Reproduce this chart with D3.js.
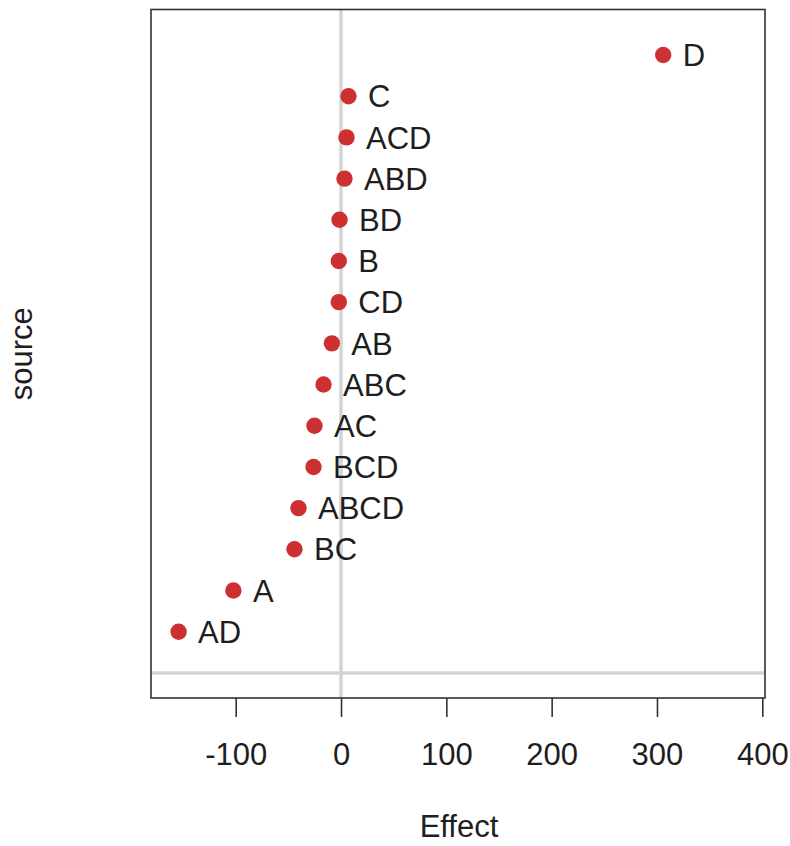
<!DOCTYPE html>
<html>
<head>
<meta charset="utf-8">
<script src="https://cdn.jsdelivr.net/npm/d3@7"></script>
<style>
  html, body { margin: 0; padding: 0; background: #fff; }
  svg { display: block; font-family: "Liberation Sans", Arial, Helvetica, sans-serif; }
</style>
</head>
<body>
<svg id="chart" width="790" height="846"></svg>
<script>
// Effect estimates, ordered from largest (top) to smallest (bottom)
const sources = ["D", "C", "ACD", "ABD", "BD", "B", "CD", "AB", "ABC", "AC", "BCD", "ABCD", "BC", "A", "AD"];
const effects = [305.9, 7.1, 5.2, 3.3, -1.4, -2.1, -2.1, -8.7, -16.6, -25.2, -26.1, -40.4, -44.2, -102.2, -154.2];
const xTicks = [-100, 0, 100, 200, 300, 400];

const svg = d3.select("#chart");
const box = { left: 151, right: 765, top: 9.5, bottom: 698 };
const fontSize = 31;

const x = d3.scaleLinear().domain([-100, 400]).range([235.7, 762.3]);
// rank 15 = top row, rank 1 = bottom row, 0 = reference line
const y = d3.scaleLinear().domain([0, 15]).range([672.9, 55]);

const data = sources.map((s, i) => ({ source: s, effect: effects[i], rank: sources.length - i }));

// reference lines
svg.append("line")
  .attr("x1", x(0)).attr("x2", x(0))
  .attr("y1", box.top).attr("y2", box.bottom)
  .attr("stroke", "#d4d4d4").attr("stroke-width", 3.5);
svg.append("line")
  .attr("x1", box.left).attr("x2", box.right)
  .attr("y1", y(0)).attr("y2", y(0))
  .attr("stroke", "#d4d4d4").attr("stroke-width", 3.5);

// plot frame
svg.append("rect")
  .attr("x", box.left).attr("y", box.top)
  .attr("width", box.right - box.left).attr("height", box.bottom - box.top)
  .attr("fill", "none").attr("stroke", "#333").attr("stroke-width", 1.6);

// x axis
const axis = svg.append("g")
  .attr("transform", `translate(0,${box.bottom})`)
  .call(d3.axisBottom(x).tickValues(xTicks).tickSize(19).tickFormat(d => String(d)));
axis.select(".domain").remove();
axis.selectAll(".tick line").attr("stroke", "#333").attr("stroke-width", 1.6);
axis.selectAll(".tick text")
  .attr("fill", "#1e1e1e").attr("font-size", fontSize).attr("dy", 0)
  .attr("y", 67);

// points
svg.append("g").selectAll("circle")
  .data(data).join("circle")
  .attr("cx", d => x(d.effect)).attr("cy", d => y(d.rank))
  .attr("r", 8.2).attr("fill", "#cc3030");

// point labels
svg.append("g").selectAll("text")
  .data(data).join("text")
  .attr("x", d => x(d.effect) + 19.5).attr("y", d => y(d.rank))
  .attr("dy", "0.36em")
  .attr("font-size", fontSize).attr("fill", "#1e1e1e")
  .text(d => d.source);

// axis titles
svg.append("text")
  .attr("x", (box.left + box.right) / 2 + 1).attr("y", 837)
  .attr("text-anchor", "middle").attr("font-size", fontSize).attr("fill", "#1e1e1e")
  .text("Effect");
svg.append("text")
  .attr("transform", `translate(32,${(box.top + box.bottom) / 2}) rotate(-90)`)
  .attr("text-anchor", "middle").attr("font-size", fontSize).attr("fill", "#1e1e1e")
  .text("source");
</script>
</body>
</html>
